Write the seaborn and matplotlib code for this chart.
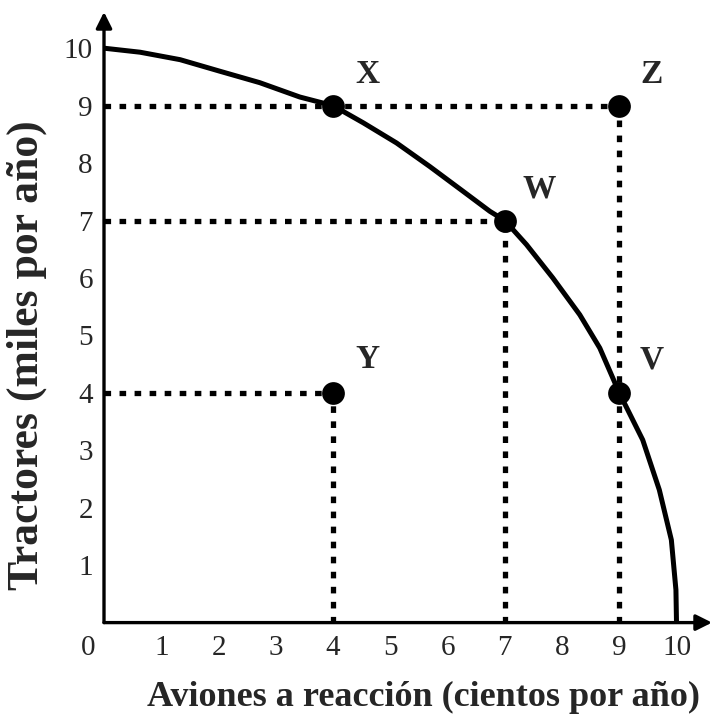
import numpy as np
import pandas as pd
import matplotlib
matplotlib.use("Agg")
import matplotlib.pyplot as plt
import seaborn as sns

# frontera de posibilidades de produccion
curva_x = [0, 0.63, 1.33, 2.02, 2.72, 3.42, 4, 4.53, 5.11, 5.69, 6.27, 6.74, 7,
           7.38, 7.84, 8.31, 8.66, 9, 9.41, 9.7, 9.91, 9.99, 10]
curva_y = [10, 9.93, 9.80, 9.60, 9.40, 9.15, 9, 8.70, 8.35, 7.94, 7.51, 7.16, 7,
           6.58, 6.0, 5.36, 4.78, 4, 3.18, 2.31, 1.44, 0.57, 0]

puntos = ["X", "W", "V", "Z", "Y"]
aviones = [4, 7, 9, 9, 4]
tractores = [9, 7, 4, 9, 4]
# puntos desde los que se trazan las guias punteadas
guias = ["W", "Z", "Y"]

ticks = list(range(1, 11))
xlabel = "Aviones a reacción (cientos por año)"
ylabel = "Tractores (miles por año)"

sns.set_theme(style="white")
plt.rcParams['font.family'] = ['Liberation Serif', 'DejaVu Serif']

fig = plt.figure(figsize=(7.13, 7.19), dpi=100)
ax = fig.add_axes([104/713, 96.4/719, 608/713, 610.6/719])
ax.set_xlim(0, 10.62)
ax.set_ylim(0, 10.63)

df_curva = pd.DataFrame({"x": curva_x, "y": curva_y})
df_pts = pd.DataFrame({"p": puntos, "x": aviones, "y": tractores})

# lineas punteadas hacia los ejes
dash = dict(color="black", lw=3.8, linestyle=(0, (1.25, 1.6)), dash_capstyle="butt", zorder=2)
for _, r in df_pts[df_pts.p.isin(guias)].iterrows():
    ax.plot([0, r.x], [r.y, r.y], **dash)
    ax.plot([r.x, r.x], [0, r.y], **dash)

sns.lineplot(data=df_curva, x="x", y="y", ax=ax, color="black", lw=3.6, sort=False,
             estimator=None, zorder=3)
sns.scatterplot(data=df_pts, x="x", y="y", ax=ax, color="black", s=230,
                edgecolor="black", zorder=4, legend=False)

offs = {"X": (0.6, 0.55), "W": (0.6, 0.55), "V": (0.57, 0.58), "Z": (0.57, 0.55), "Y": (0.6, 0.58)}
for _, r in df_pts.iterrows():
    dx, dy = offs[r.p]
    ax.text(r.x + dx, r.y + dy, r.p, fontsize=24, fontweight="bold", ha="center", va="center")

for s in ax.spines.values():
    s.set_visible(False)
arrow = dict(arrowstyle="-|>", lw=2.4, color="black", mutation_scale=24, shrinkA=0, shrinkB=0)
ax.annotate("", xy=(1, 0), xytext=(0, 0), xycoords="axes fraction", arrowprops=arrow, annotation_clip=False)
ax.annotate("", xy=(0, 1), xytext=(0, 0), xycoords="axes fraction", arrowprops=arrow, annotation_clip=False)

ax.set_xticks(ticks)
ax.set_yticks(ticks)
ax.set_xticklabels([str(t) for t in ticks])
ax.set_yticklabels([str(t) for t in ticks])
ax.tick_params(axis="both", length=0, labelsize=21)
ax.tick_params(axis="x", pad=9)
ax.tick_params(axis="y", pad=8)
ax.text(-0.28, -0.45, "0", fontsize=21, ha="center", va="center")

ax.set_xlabel(xlabel, fontsize=26, fontweight="bold")
ax.set_ylabel(ylabel, fontsize=31.5, fontweight="bold")
ax.xaxis.set_label_coords(0.526, -0.095)
ax.yaxis.set_label_coords(-0.093, 0.438)
ax.set_facecolor("white")

fig.savefig("out.png", dpi=100, facecolor="white")
